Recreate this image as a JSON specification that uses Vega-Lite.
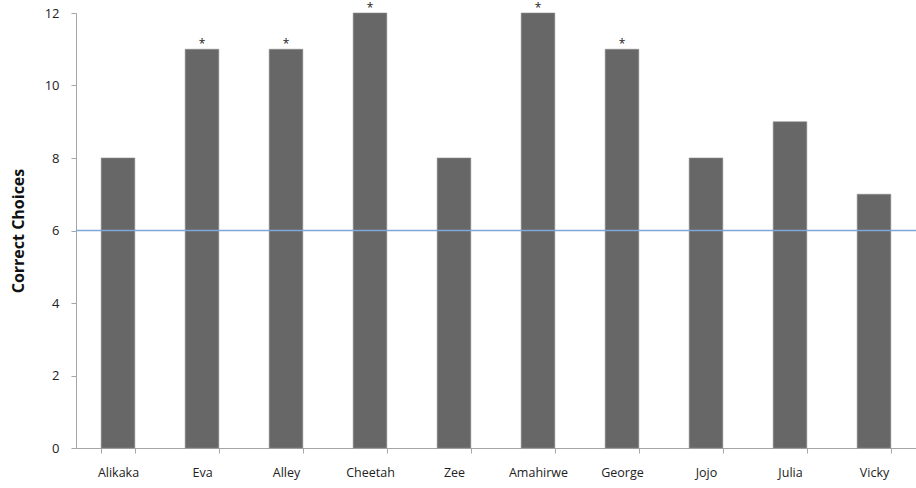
{
  "$schema": "https://vega.github.io/schema/vega-lite/v6.json",
  "width": 840,
  "height": 435,
  "autosize": {"type": "none"},
  "padding": {"left": 76, "top": 13, "right": 0, "bottom": 40},
  "background": "white",
  "config": {
    "view": {"stroke": null},
    "font": "Open Sans"
  },
  "data": {
    "values": [
      {"name": "Alikaka", "correct": 8, "sig": ""},
      {"name": "Eva", "correct": 11, "sig": "*"},
      {"name": "Alley", "correct": 11, "sig": "*"},
      {"name": "Cheetah", "correct": 12, "sig": "*"},
      {"name": "Zee", "correct": 8, "sig": ""},
      {"name": "Amahirwe", "correct": 12, "sig": "*"},
      {"name": "George", "correct": 11, "sig": "*"},
      {"name": "Jojo", "correct": 8, "sig": ""},
      {"name": "Julia", "correct": 9, "sig": ""},
      {"name": "Vicky", "correct": 7, "sig": ""}
    ]
  },
  "encoding": {
    "x": {
      "field": "name",
      "type": "nominal",
      "sort": null,
      "scale": {"paddingInner": 0.6, "paddingOuter": 0.3},
      "axis": {
        "title": null,
        "labelAngle": 0,
        "labelFontSize": 12.5,
        "labelColor": "#222222",
        "labelPadding": 13,
        "domainColor": "#a6a6a6",
        "tickColor": "#a6a6a6",
        "tickBand": "extent",
        "tickSize": 5
      }
    }
  },
  "layer": [
    {
      "mark": {"type": "bar", "color": "#676767", "stroke": "#8a8a8a", "strokeWidth": 0.6},
      "encoding": {
        "y": {
          "field": "correct",
          "type": "quantitative",
          "scale": {"domain": [0, 12], "nice": false},
          "axis": {
            "title": "Correct Choices",
            "titleFontSize": 16,
            "titleFontWeight": "bold",
            "titleColor": "#111111",
            "titlePadding": 18,
            "values": [0, 2, 4, 6, 8, 10, 12],
            "labelFontSize": 13,
            "labelColor": "#222222",
            "labelPadding": 12,
            "grid": false,
            "domainColor": "#a6a6a6",
            "tickColor": "#a6a6a6",
            "tickSize": 5
          }
        }
      }
    },
    {
      "mark": {"type": "text", "baseline": "top", "dy": -10, "fontSize": 12, "color": "#222222"},
      "encoding": {
        "y": {"field": "correct", "type": "quantitative"},
        "text": {"field": "sig"}
      }
    },
    {
      "data": {"values": [{"chance": 6}]},
      "mark": {"type": "rule", "color": "#7fa7d9", "strokeWidth": 1.5},
      "encoding": {
        "x": {"value": 0},
        "x2": {"value": 840},
        "y": {"field": "chance", "type": "quantitative"}
      }
    }
  ]
}
